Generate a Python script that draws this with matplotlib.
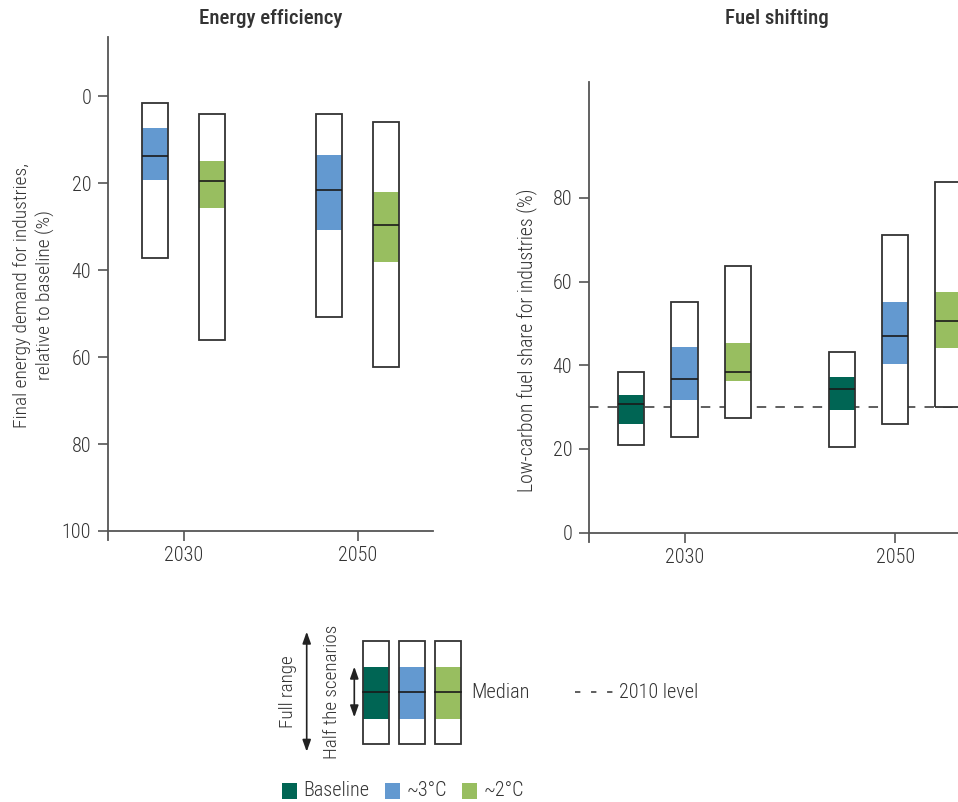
import numpy as np
import matplotlib
matplotlib.use("Agg")
import matplotlib.pyplot as plt
from matplotlib.patches import Rectangle

plt.rcParams['font.family'] = ['Roboto Condensed', 'Roboto', 'DejaVu Sans']
plt.rcParams['font.weight'] = 'light'

# ---- data ----
years = ['2030', '2050']

# Energy efficiency (% reduction relative to baseline): ~3°C and ~2°C
ee_3c_min = [1.6, 4.1]
ee_3c_q1 = [7.4, 13.6]
ee_3c_med = [13.9, 21.5]
ee_3c_q3 = [19.3, 30.8]
ee_3c_max = [37.2, 50.8]

ee_2c_min = [4.1, 5.9]
ee_2c_q1 = [15.0, 22.1]
ee_2c_med = [19.5, 29.6]
ee_2c_q3 = [25.7, 38.2]
ee_2c_max = [56.1, 62.4]

# Fuel shifting (low-carbon fuel share %): Baseline, ~3°C, ~2°C
fs_base_min = [20.9, 20.5]
fs_base_q1 = [25.9, 29.3]
fs_base_med = [30.8, 34.3]
fs_base_q3 = [32.8, 37.3]
fs_base_max = [38.4, 43.2]

fs_3c_min = [22.9, 26.0]
fs_3c_q1 = [31.6, 40.3]
fs_3c_med = [36.6, 46.9]
fs_3c_q3 = [44.3, 55.0]
fs_3c_max = [55.2, 71.1]

fs_2c_min = [27.3, 30.0]
fs_2c_q1 = [36.2, 44.1]
fs_2c_med = [38.4, 50.6]
fs_2c_q3 = [45.2, 57.4]
fs_2c_max = [63.8, 83.9]

level_2010 = 30.1

C_BASE = '#006554'
C_3C = '#6399D0'
C_2C = '#98BE60'
EDGE = '#333333'
AXC = '#555555'
TXT = '#333333'
FS = 14.5


def draw_boxes(ax, xpos, lo, q1, med, q3, hi, color, width):
    xpos = np.asarray(xpos)
    lo, q1, med, q3, hi = map(np.asarray, (lo, q1, med, q3, hi))
    ax.bar(xpos, hi - lo, bottom=lo, width=width, color='white', edgecolor='none', zorder=2)
    ax.bar(xpos, q3 - q1, bottom=q1, width=width, color=color, edgecolor='none', zorder=3)
    ax.bar(xpos, hi - lo, bottom=lo, width=width, fill=False, edgecolor=EDGE, linewidth=1.3, zorder=4)
    ax.hlines(med, xpos - width / 2, xpos + width / 2, color='#1a1a1a', linewidth=1.2, zorder=5)


def style_axis(ax):
    for s in ['top', 'right']:
        ax.spines[s].set_visible(False)
    for s in ['left', 'bottom']:
        ax.spines[s].set_color(AXC)
        ax.spines[s].set_linewidth(1.3)
    ax.tick_params(axis='both', colors=AXC, labelcolor=TXT, labelsize=FS, length=7, width=1.2)
    ax.tick_params(axis='y', pad=5)
    ax.tick_params(axis='x', pad=4)
    ax.set_facecolor('none')


fig = plt.figure(figsize=(9.58, 8.02), dpi=100)
W, H = 958.0, 802.0

# ---- Energy efficiency panel ----
ax1 = fig.add_axes([108 / W, 1 - 531 / H, (433 - 108) / W, (531 - 37.3) / H])
g = np.arange(len(years))
draw_boxes(ax1, g - 0.164, ee_3c_min, ee_3c_q1, ee_3c_med, ee_3c_q3, ee_3c_max, C_3C, 0.149)
draw_boxes(ax1, g + 0.164, ee_2c_min, ee_2c_q1, ee_2c_med, ee_2c_q3, ee_2c_max, C_2C, 0.149)
ax1.set_xlim(-0.435, 1.433)
ax1.set_ylim(100, -13.5)
ax1.set_yticks([0, 20, 40, 60, 80, 100])
ax1.set_xticks(g)
ax1.set_xticklabels(years)
style_axis(ax1)
ax1.plot([-0.435, -0.435], [100, 102], color=AXC, lw=1.3, clip_on=False)
fig.text(270.5 / W, 1 - 18.5 / H, 'Energy efficiency', fontsize=15, color=TXT, fontweight='medium',
         ha='center', va='center')

# ---- Fuel shifting panel ----
ax2 = fig.add_axes([589 / W, 1 - 532.6 / H, (966 - 589) / W, (532.6 - 82) / H])
draw_boxes(ax2, g - 0.252, fs_base_min, fs_base_q1, fs_base_med, fs_base_q3, fs_base_max, C_BASE, 0.124)
draw_boxes(ax2, g, fs_3c_min, fs_3c_q1, fs_3c_med, fs_3c_q3, fs_3c_max, C_3C, 0.124)
draw_boxes(ax2, g + 0.252, fs_2c_min, fs_2c_q1, fs_2c_med, fs_2c_q3, fs_2c_max, C_2C, 0.124)
ax2.axhline(level_2010, color='#333333', lw=1.1, ls=(0, (6.2, 6)), zorder=1.5)
ax2.set_xlim(-0.453, 1.335)
ax2.set_ylim(0, 107.7)
ax2.set_yticks([0, 20, 40, 60, 80])
ax2.set_xticks(g)
ax2.set_xticklabels(years)
style_axis(ax2)
ax2.plot([-0.453, -0.453], [0, -2.2], color=AXC, lw=1.3, clip_on=False)
fig.text(777 / W, 1 - 18.5 / H, 'Fuel shifting', fontsize=15, color=TXT, fontweight='medium',
         ha='center', va='center')

# axis labels
fig.text(34 / W, 1 - 295 / H, 'Final energy demand for industries,\nrelative to baseline (%)',
         rotation=90, ha='center', va='center', fontsize=14, color=TXT, linespacing=1.35)
fig.text(527 / W, 1 - 340 / H, 'Low-carbon fuel share for industries (%)',
         rotation=90, ha='center', va='center', fontsize=14.2, color=TXT)

# ---- legend drawn in figure pixel space ----
lg = fig.add_axes([0, 0, 1, 1], zorder=-1)
lg.set_xlim(0, W)
lg.set_ylim(H, 0)
lg.axis('off')

for x0, col in [(363.3, C_BASE), (399.0, C_3C), (435.3, C_2C)]:
    lg.add_patch(Rectangle((x0, 667.3), 25.7, 51.4, facecolor=col, edgecolor='none'))
    lg.add_patch(Rectangle((x0, 640.7), 25.7, 103.3, fill=False, edgecolor=EDGE, lw=1.3))
    lg.plot([x0, x0 + 25.7], [692, 692], color='#1a1a1a', lw=1.2)

arrow = dict(arrowstyle='<|-|>,head_length=0.7,head_width=0.25', color='#222222', lw=1.2,
             shrinkA=0, shrinkB=0)
lg.annotate('', xy=(306.7, 631.7), xytext=(306.7, 751.7), arrowprops=arrow)
lg.annotate('', xy=(354.3, 666.7), xytext=(354.3, 717.3), arrowprops=arrow)
lg.text(288, 692, 'Full range', rotation=90, ha='center', va='center', fontsize=13.8, color=TXT)
lg.text(331.7, 692, 'Half the scenarios', rotation=90, ha='center', va='center', fontsize=13.8, color=TXT)
lg.text(471, 692, 'Median', ha='left', va='center', fontsize=14.8, color=TXT)
lg.plot([575, 614], [692, 692], color='#333333', lw=1.1, ls=(0, (3.5, 7)))
lg.text(619, 692, '2010 level', ha='left', va='center', fontsize=14.5, color=TXT)

for x0, col, lab in [(281.7, C_BASE, 'Baseline'), (385.0, C_3C, '~3°C'), (462.3, C_2C, '~2°C')]:
    lg.add_patch(Rectangle((x0, 783), 15, 16, facecolor=col, edgecolor='none'))
    lg.text(x0 + 21.5, 791, lab, ha='left', va='center', fontsize=14.5, color=TXT)

fig.savefig('out.png', dpi=100)
